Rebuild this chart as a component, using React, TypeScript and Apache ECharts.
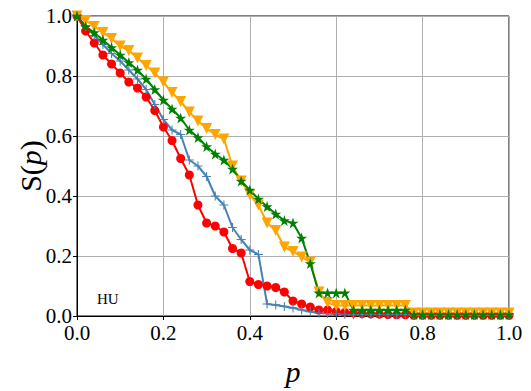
import React, { useEffect, useRef } from "react";
import * as echarts from "echarts";

const pValues = [
  0.0, 0.02, 0.04, 0.06, 0.08, 0.1, 0.12, 0.14, 0.16, 0.18,
  0.2, 0.22, 0.24, 0.26, 0.28, 0.3, 0.32, 0.34, 0.36, 0.38,
  0.4, 0.42, 0.44, 0.46, 0.48, 0.5, 0.52, 0.54, 0.56, 0.58,
  0.6, 0.62, 0.64, 0.66, 0.68, 0.7, 0.72, 0.74, 0.76, 0.78,
  0.8, 0.82, 0.84, 0.86, 0.88, 0.9, 0.92, 0.94, 0.96, 0.98, 1.0,
];

const redValues = [
  1.0, 0.95, 0.91, 0.87, 0.84, 0.81, 0.78, 0.76, 0.73, 0.685,
  0.63, 0.585, 0.525, 0.47, 0.37, 0.31, 0.3, 0.28, 0.225, 0.21,
  0.115, 0.105, 0.1, 0.095, 0.08, 0.05, 0.04, 0.03, 0.02, 0.02,
  0.015, 0.012, 0.01, 0.008, 0.007, 0.006, 0.005, 0.004, 0.004, 0.002,
  0.002, 0.002, 0.002, 0.002, 0.002, 0.002, 0.002, 0.002, 0.002, 0.002, 0.002,
];

const blueValues = [
  1.0, 0.965, 0.935, 0.905, 0.875, 0.85, 0.82, 0.79, 0.755, 0.705,
  0.655, 0.62, 0.605, 0.52, 0.5, 0.465, 0.4, 0.37, 0.295, 0.255,
  0.22, 0.205, 0.04, 0.037, 0.032, 0.027, 0.02, 0.014, 0.01, 0.008,
  0.007, 0.006, 0.005, 0.005, 0.005, 0.005, 0.005, 0.005, 0.005, 0.002,
  0.002, 0.002, 0.002, 0.002, 0.002, 0.002, 0.002, 0.002, 0.002, 0.002, 0.002,
];

const orangeValues = [
  1.0, 0.985, 0.965, 0.945, 0.925, 0.9, 0.885, 0.86, 0.835, 0.81,
  0.78, 0.745, 0.715, 0.68, 0.65, 0.625, 0.605, 0.59, 0.5, 0.45,
  0.405, 0.37, 0.31, 0.285, 0.23, 0.215, 0.197, 0.18, 0.08, 0.045,
  0.035, 0.035, 0.035, 0.035, 0.035, 0.035, 0.035, 0.035, 0.035, 0.01,
  0.01, 0.01, 0.01, 0.01, 0.01, 0.01, 0.01, 0.01, 0.01, 0.01, 0.01,
];

const greenValues = [
  1.0, 0.965, 0.945, 0.92, 0.895, 0.87, 0.845, 0.82, 0.79, 0.755,
  0.72, 0.69, 0.66, 0.62, 0.595, 0.565, 0.54, 0.52, 0.49, 0.45,
  0.42, 0.39, 0.365, 0.34, 0.318, 0.31, 0.26, 0.175, 0.077, 0.077,
  0.077, 0.077, 0.02, 0.02, 0.02, 0.02, 0.02, 0.02, 0.02, 0.005,
  0.005, 0.005, 0.005, 0.005, 0.005, 0.005, 0.005, 0.005, 0.005, 0.005, 0.005,
];

const axisTicks = [0, 0.2, 0.4, 0.6, 0.8, 1.0];

const STAR =
  "path://M0,-1 L0.2245,-0.309 L0.951,-0.309 L0.363,0.118 L0.588,0.809 L0,0.382 L-0.588,0.809 L-0.363,0.118 L-0.951,-0.309 L-0.2245,-0.309 Z";
const PLUS =
  "path://M-1,-0.12 L1,-0.12 L1,0.12 L-1,0.12 Z M-0.12,-1 L0.12,-1 L0.12,1 L-0.12,1 Z";

const SERIF = "'Liberation Serif', 'DejaVu Serif', serif";

function pairs(ys: number[]) {
  return pValues.map((p, i) => [p, ys[i]]);
}

export default function App() {
  const ref = useRef<HTMLDivElement>(null);
  useEffect(() => {
    if (!ref.current) return;
    document.body.style.margin = "0";
    const chart = echarts.init(ref.current, undefined, { renderer: "svg" });
    const mk = (
      name: string,
      ys: number[],
      color: string,
      symbol: string,
      size: number,
      rotate = 0
    ) => ({
      name,
      type: "line",
      data: pairs(ys),
      showSymbol: true,
      showAllSymbol: true,
      symbol,
      symbolSize: size,
      symbolRotate: rotate,
      clip: true,
      lineStyle: { color, width: 2 },
      itemStyle: { color, borderWidth: 0 },
      emphasis: { disabled: true },
    });
    chart.setOption({
      animation: false,
      backgroundColor: "#ffffff",
      grid: {
        left: 77,
        right: 22,
        top: 16,
        bottom: 69,
        show: true,
        borderColor: "#000000",
        borderWidth: 1,
        backgroundColor: "transparent",
      },
      xAxis: {
        type: "value",
        min: axisTicks[0],
        max: axisTicks[axisTicks.length - 1],
        interval: 0.2,
        name: "p",
        nameLocation: "middle",
        nameGap: 40,
        nameTextStyle: {
          fontFamily: SERIF,
          fontStyle: "italic",
          fontSize: 30,
          color: "#000",
        },
        axisLine: { show: true, onZero: false, lineStyle: { color: "#000", width: 1 } },
        axisTick: { show: true, inside: false, length: 4, lineStyle: { color: "#000" } },
        axisLabel: {
          fontFamily: SERIF,
          fontSize: 21,
          lineHeight: 15,
          color: "#000",
          margin: 9,
          formatter: (v: number) => v.toFixed(1),
        },
        splitLine: { show: true, lineStyle: { color: "#b0b0b0", width: 1 } },
      },
      yAxis: {
        type: "value",
        min: axisTicks[0],
        max: axisTicks[axisTicks.length - 1],
        interval: 0.2,
        axisLine: { show: true, onZero: false, lineStyle: { color: "#000", width: 1 } },
        axisTick: { show: true, inside: false, length: 4, lineStyle: { color: "#000" } },
        axisLabel: {
          fontFamily: SERIF,
          fontSize: 21,
          lineHeight: 15,
          color: "#000",
          margin: 5,
          formatter: (v: number) => v.toFixed(1),
        },
        splitLine: { show: true, lineStyle: { color: "#b0b0b0", width: 1 } },
      },
      graphic: [
        {
          type: "text",
          x: 30,
          y: 166,
          rotation: Math.PI / 2,
          style: {
            text: "{r|S(}{i|p}{r|)}",
            align: "center",
            verticalAlign: "middle",
            rich: {
              r: { fontFamily: SERIF, fontSize: 30, fill: "#000" },
              i: { fontFamily: SERIF, fontSize: 30, fontStyle: "italic", fill: "#000" },
            },
          },
        },
        {
          type: "text",
          left: 97,
          top: 291,
          style: { text: "HU", fontFamily: SERIF, fontSize: 15, fill: "#000" },
        },
      ],
      series: [
        mk("red", redValues, "#ff0000", "circle", 9),
        mk("blue", blueValues, "#4682b4", PLUS, 9),
        mk("orange", orangeValues, "#ffa500", "triangle", 11, 180),
        mk("green", greenValues, "#008000", STAR, 11),
      ],
    });
    return () => chart.dispose();
  }, []);
  return <div ref={ref} style={{ width: 531, height: 391 }} />;
}
